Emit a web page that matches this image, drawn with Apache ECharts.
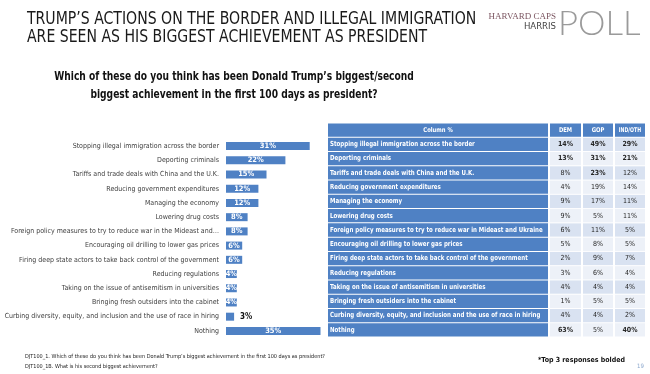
<!DOCTYPE html>
<html><head><meta charset="utf-8">
<script src="https://cdn.jsdelivr.net/npm/echarts@6/dist/echarts.min.js"></script>
<style>html,body{margin:0;padding:0;background:#fff}#c{width:650px;height:374px}</style>
</head><body><div id="c"></div>
<script>
const barCategories = [
  "Stopping illegal immigration across the border",
  "Deporting criminals",
  "Tariffs and trade deals with China and the U.K.",
  "Reducing government expenditures",
  "Managing the economy",
  "Lowering drug costs",
  "Foreign policy measures to try to reduce war in the Mideast and\u2026",
  "Encouraging oil drilling to lower gas prices",
  "Firing deep state actors to take back control of the government",
  "Reducing regulations",
  "Taking on the issue of antisemitism in universities",
  "Bringing fresh outsiders into the cabinet",
  "Curbing diversity, equity, and inclusion and the use of race in hiring",
  "Nothing"
];
const totalValues = [31, 22, 15, 12, 12, 8, 8, 6, 6, 4, 4, 4, 3, 35];
const tableRows = [
  "Stopping illegal immigration across the border",
  "Deporting criminals",
  "Tariffs and trade deals with China and the U.K.",
  "Reducing government expenditures",
  "Managing the economy",
  "Lowering drug costs",
  "Foreign policy measures to try to reduce war in Mideast and Ukraine",
  "Encouraging oil drilling to lower gas prices",
  "Firing deep state actors to take back control of the government",
  "Reducing regulations",
  "Taking on the issue of antisemitism in universities",
  "Bringing fresh outsiders into the cabinet",
  "Curbing diversity, equity, and inclusion and the use of race in hiring",
  "Nothing"
];
const tableHeader = ["Column %", "DEM", "GOP", "IND/OTH"];
const demValues = [14, 13, 8, 4, 9, 9, 6, 5, 2, 3, 4, 1, 4, 63];
const gopValues = [49, 31, 23, 19, 17, 5, 11, 8, 9, 6, 4, 5, 4, 5];
const indValues = [29, 21, 12, 14, 11, 11, 5, 5, 7, 4, 4, 5, 2, 40];

const FONT = "'Liberation Sans Narrow','DejaVu Sans Condensed','Roboto',sans-serif";
const BLUE = '#4f81c4';
const colEdges = [0, 221, 254, 286, 318];

function top3(arr) {
  const s = arr.slice().sort((a, b) => b - a);
  const th = s[2];
  return arr.map(v => v >= th);
}
const groups = [demValues, gopValues, indValues];
const boldFlags = groups.map(top3);

const tableData = [];
const rowNames = [tableHeader[0]].concat(tableRows);
for (let r = 0; r < rowNames.length; r++) {
  for (let c = 0; c < 4; c++) {
    let text, bold = true, kind;
    if (r === 0) { text = tableHeader[c]; kind = 'head'; }
    else if (c === 0) { text = tableRows[r - 1]; kind = 'label'; }
    else { text = groups[c - 1][r - 1] + '%'; bold = boldFlags[c - 1][r - 1]; kind = 'cell'; }
    tableData.push({ value: [c, r], text, bold, kind });
  }
}

const chart = echarts.init(document.getElementById('c'), null, { renderer: 'canvas' });
chart.setOption({
  animation: false,
  backgroundColor: '#fff',
  grid: [
    { left: 226, top: 139, width: 108, height: 199, containLabel: false, outerBoundsMode: 'none' },
    { left: 328, top: 123, width: 318, height: 214, containLabel: false, outerBoundsMode: 'none' }
  ],
  xAxis: [
    { gridIndex: 0, type: 'value', min: 0, max: 40, show: false },
    { gridIndex: 1, type: 'value', min: 0, max: 318, show: false }
  ],
  yAxis: [
    { gridIndex: 0, type: 'category', data: barCategories, inverse: true,
      axisLine: { show: false }, axisTick: { show: false }, splitLine: { show: false },
      axisLabel: { margin: 7, fontFamily: FONT, fontSize: 7, color: '#404040' } },
    { gridIndex: 1, type: 'category', data: rowNames, inverse: true, show: false }
  ],
  series: [
    { type: 'bar', xAxisIndex: 0, yAxisIndex: 0, barWidth: 8,
      data: totalValues.map(v => ({
        value: v,
        label: v >= 4
          ? { show: true, position: 'inside', color: '#fff', fontWeight: 'bold', fontFamily: FONT, fontSize: 7.5, formatter: '{c}%' }
          : { show: true, position: 'right', distance: 6, color: '#111', fontWeight: 'bold', fontFamily: FONT, fontSize: 8, formatter: '{c}%' }
      })),
      itemStyle: { color: BLUE } },
    { type: 'custom', xAxisIndex: 1, yAxisIndex: 1, data: tableData,
      renderItem: function (params, api) {
        const c = api.value(0), r = api.value(1);
        const d = tableData[params.dataIndex];
        const p0 = api.coord([colEdges[c], r]);
        const p1 = api.coord([colEdges[c + 1], r]);
        const h = api.size([0, 1])[1];
        const x = p0[0] + (c === 0 ? 0 : 1), w = p1[0] - p0[0] - (c === 0 ? 1 : 2);
        const y = p0[1] - h / 2 + 0.5, hh = h - 1;
        let fill;
        if (d.kind === 'cell') fill = (r % 2 === 1) ? '#d9e2f1' : '#edf1f8';
        else fill = BLUE;
        const isLeft = d.kind === 'label';
        let size = 7, sx = 1;
        if (d.kind === 'label') { size = 7; sx = 0.87; }
        else if (d.kind === 'head') { size = 6.5; sx = c === 3 ? 0.8 : 0.9; }
        return {
          type: 'group',
          children: [
            { type: 'rect', shape: { x: x, y: y, width: w, height: hh }, style: { fill: fill } },
            { type: 'text', x: isLeft ? x + 2 : x + w / 2, y: p0[1], scaleX: sx,
              style: {
                x: 0, y: 0,
                text: d.text, align: isLeft ? 'left' : 'center', verticalAlign: 'middle',
                fill: d.kind === 'cell' ? '#262626' : '#fff',
                font: (d.bold ? 'bold ' : '') + size + 'px ' + FONT } }
          ]
        };
      } }
  ],
  graphic: [
    { type: 'text', x: 27, y: 11, scaleX: 0.92, style: { x: 0, y: 0, text: "TRUMP\u2019S ACTIONS ON THE BORDER AND ILLEGAL IMMIGRATION", font: "17px " + FONT, fill: '#1a1a1a' } },
    { type: 'text', x: 27, y: 29, scaleX: 0.92, style: { x: 0, y: 0, text: "ARE SEEN AS HIS BIGGEST ACHIEVEMENT AS PRESIDENT", font: "17px " + FONT, fill: '#1a1a1a' } },
    { type: 'text', x: 234, y: 70, scaleX: 0.8, style: { x: 0, y: 0, align: 'center', text: "Which of these do you think has been Donald Trump\u2019s biggest/second", font: "bold 12.7px " + FONT, fill: '#111' } },
    { type: 'text', x: 234, y: 88, scaleX: 0.8, style: { x: 0, y: 0, align: 'center', text: "biggest achievement in the first 100 days as president?", font: "bold 12.7px " + FONT, fill: '#111' } },
    { type: 'text', x: 556, y: 12, style: { x: 0, y: 0, align: 'right', text: 'HARVARD CAPS', font: "9px 'Liberation Serif',serif", fill: '#7b5560' } },
    { type: 'text', x: 556, y: 22, style: { x: 0, y: 0, align: 'right', text: 'HARRIS', font: "9.5px " + FONT, fill: '#444' } },
    { type: 'text', x: 558, y: 8, scaleX: 1.05, style: { x: 0, y: 0, text: 'POLL', font: "300 33px 'Lato','Open Sans',sans-serif", fill: '#9a9a9a' } },
    { type: 'text', x: 25, y: 354, style: { x: 0, y: 0, text: 'DJT100_1. Which of these do you think has been Donald Trump\u2019s biggest achievement in the first 100 days as president?', font: "5.5px " + FONT, fill: '#222' } },
    { type: 'text', x: 25, y: 364, style: { x: 0, y: 0, text: 'DJT100_1B. What is his second biggest achievement?', font: "5.5px " + FONT, fill: '#222' } },
    { type: 'text', x: 538, y: 357, style: { x: 0, y: 0, text: '*Top 3 responses bolded', font: "bold 7px " + FONT, fill: '#111' } },
    { type: 'text', x: 637, y: 363, style: { x: 0, y: 0, text: '19', font: "6px " + FONT, fill: '#8aa6cc' } }
  ]
});
</script></body></html>
